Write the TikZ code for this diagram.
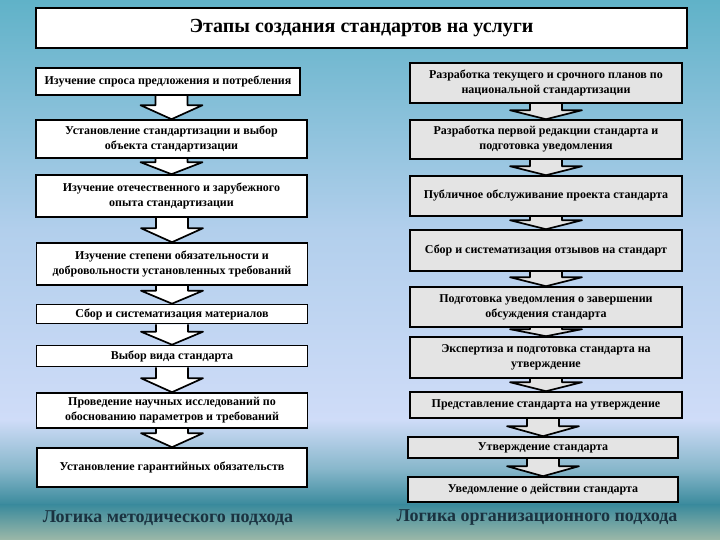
\documentclass[tikz,border=0pt]{standalone}
\usepackage{fontspec}
\setmainfont{Liberation Serif}
\usetikzlibrary{calc}
\definecolor{bg1}{HTML}{60B2C8}
\definecolor{bg2}{HTML}{B2CFEC}
\definecolor{bg3}{HTML}{CFDCF8}
\definecolor{bg4}{HTML}{86B6CA}
\definecolor{bg5}{HTML}{3A8A9C}
\definecolor{bg6}{HTML}{9CB8A8}
\definecolor{boxgray}{HTML}{E4E4E4}
\definecolor{footc}{HTML}{1A3240}
\pgfdeclarelayer{bglayer}
\pgfdeclarelayer{arrlayer}
\pgfsetlayers{bglayer,arrlayer,main}
\newcommand\blkarrow[6]{%
  \draw[arrline, fill=#6] let \p1=(#1.south), \p2=(#2.north) in
   (\x2-#3,\y1) -- (\x2-#3,\y2+#5) -- (\x2-#4,\y2+#5) -- (\x2,\y2)
   -- (\x2+#4,\y2+#5) -- (\x2+#3,\y2+#5) -- (\x2+#3,\y1);}
\begin{document}
\begin{tikzpicture}[x=1pt,y=-1pt,
  lbox/.style={draw=black, line width=1.6pt, fill=white, inner sep=1pt, align=center,
    font=\bfseries\fontsize{12}{15}\selectfont},
  rbox/.style={lbox, fill=boxgray},
  titlebox/.style={draw=black, line width=2pt, fill=white, font=\bfseries\fontsize{20}{22}\selectfont},
  foot/.style={text=footc, font=\bfseries\fontsize{18}{20}\selectfont},
  arrline/.style={draw=black, line width=1.7pt, line join=round}]
\useasboundingbox (0,0) rectangle (720,540);
\begin{pgfonlayer}{bglayer}
\shade[top color=bg1, bottom color=bg2] (0,0) rectangle (720,230);
\shade[top color=bg2, bottom color=bg3] (0,229.5) rectangle (720,420);
\shade[top color=bg3, bottom color=bg4] (0,419.5) rectangle (720,470);
\shade[top color=bg4, bottom color=bg5] (0,469.5) rectangle (720,505);
\shade[top color=bg5, bottom color=bg6] (0,504.5) rectangle (720,540);
\end{pgfonlayer}

\node[titlebox, minimum width=651pt, minimum height=40pt] (T) at (361.5,28) {Этапы создания стандартов на услуги};

% left column
\node[lbox, minimum width=264pt, minimum height=27pt] (L1) at (168,81.5) {Изучение спроса предложения и потребления};
\node[lbox, minimum width=271pt, minimum height=38pt] (L2) at (171.5,139) {Установление стандартизации и выбор\\объекта стандартизации};
\node[lbox, minimum width=271pt, minimum height=42pt] (L3) at (171.5,196) {Изучение отечественного и зарубежного\\опыта стандартизации};
\node[lbox, minimum width=271pt, minimum height=42pt] (L4) at (172,264) {Изучение степени обязательности и\\добровольности установленных требований};
\node[lbox, minimum width=271pt, minimum height=19pt] (L5) at (172,314) {Сбор и систематизация материалов};
\node[lbox, minimum width=271pt, minimum height=21pt] (L6) at (172,356) {Выбор вида стандарта};
\node[lbox, minimum width=271pt, minimum height=35pt] (L7) at (172,410.5) {Проведение научных исследований по\\обоснованию параметров и требований};
\node[lbox, minimum width=270pt, minimum height=39pt] (L8) at (172,467.5) {Установление гарантийных обязательств};

% right column
\node[rbox, minimum width=272pt, minimum height=40pt] (R1) at (546,83) {Разработка текущего и срочного планов по\\национальной стандартизации};
\node[rbox, minimum width=272pt, minimum height=39pt] (R2) at (546,139.5) {Разработка первой редакции стандарта и\\подготовка уведомления};
\node[rbox, minimum width=272pt, minimum height=40pt] (R3) at (546,196) {Публичное обслуживание проекта стандарта};
\node[rbox, minimum width=272pt, minimum height=41pt] (R4) at (546,250.5) {Сбор и систематизация отзывов на стандарт};
\node[rbox, minimum width=272pt, minimum height=40pt] (R5) at (546,307) {Подготовка уведомления о завершении\\обсуждения стандарта};
\node[rbox, minimum width=272pt, minimum height=41pt] (R6) at (546,357.5) {Экспертиза и подготовка стандарта на\\утверждение};
\node[rbox, minimum width=272pt, minimum height=26pt] (R7) at (546,405) {Представление стандарта на утверждение};
\node[rbox, minimum width=270pt, minimum height=21pt] (R8) at (543,447.5) {Утверждение стандарта};
\node[rbox, minimum width=270pt, minimum height=25pt] (R9) at (543,489.5) {Уведомление о действии стандарта};

\node[foot] (F1) at (168,518) {Логика методического подхода};
\node[foot] (F2) at (537,518) {Логика организационного подхода};

\begin{pgfonlayer}{arrlayer}
\blkarrow{L1}{L2}{16pt}{31pt}{14pt}{white}
\blkarrow{L2}{L3}{16pt}{31pt}{12pt}{white}
\blkarrow{L3}{L4}{16pt}{31pt}{14pt}{white}
\blkarrow{L4}{L5}{16pt}{31pt}{13pt}{white}
\blkarrow{L5}{L6}{16pt}{31pt}{13pt}{white}
\blkarrow{L6}{L7}{16pt}{31pt}{14pt}{white}
\blkarrow{L7}{L8}{16pt}{31pt}{14pt}{white}
\blkarrow{R1}{R2}{16pt}{36pt}{9pt}{boxgray}
\blkarrow{R2}{R3}{16pt}{36pt}{9pt}{boxgray}
\blkarrow{R3}{R4}{16pt}{36pt}{9pt}{boxgray}
\blkarrow{R4}{R5}{16pt}{36pt}{9pt}{boxgray}
\blkarrow{R5}{R6}{16pt}{36pt}{7pt}{boxgray}
\blkarrow{R6}{R7}{16pt}{36pt}{9pt}{boxgray}
\blkarrow{R7}{R8}{16pt}{36pt}{10pt}{boxgray}
\blkarrow{R8}{R9}{16pt}{36pt}{10pt}{boxgray}
\end{pgfonlayer}
\end{tikzpicture}
\end{document}
